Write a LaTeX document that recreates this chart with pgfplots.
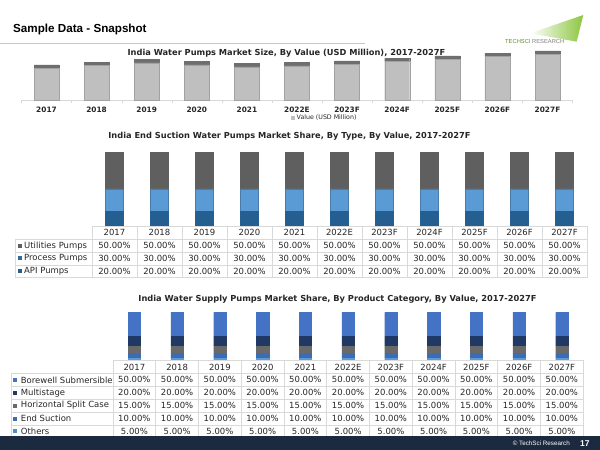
\documentclass[border=0pt]{standalone}
\usepackage{pgfplots}
\usepackage{pgfplotstable}
\pgfplotsset{compat=1.18}
\usepackage{fontspec}
\setmainfont{DejaVu Sans}
\newfontfamily\arialfont{Liberation Sans}
\definecolor{txt}{HTML}{262626}
\definecolor{bodygray}{HTML}{BFBFBF}
\definecolor{capgray}{HTML}{6E6E6E}
\definecolor{utilgray}{HTML}{5F5F5F}
\definecolor{procblue}{HTML}{5B9BD5}
\definecolor{apiblue}{HTML}{255E91}
\definecolor{borewell}{HTML}{4472C4}
\definecolor{multi}{HTML}{203864}
\definecolor{hsc}{HTML}{696969}
\definecolor{endsuc}{HTML}{3A6DB5}
\definecolor{others}{HTML}{5B9BD5}
\definecolor{gridc}{HTML}{D9D9D9}
\definecolor{footer}{HTML}{1B2A3F}
\definecolor{logogreen}{HTML}{8CC63F}
\newcommand\tabfont{\fontsize{8.5}{10}\selectfont}
\newcommand\ttlfont{\fontsize{8.3}{10}\selectfont\bfseries}

\pgfplotstableread{
x body cap
0 31.7 3.3
1 34.4 3.3
2 37.0 3.3
3 35.0 3.3
4 33.0 3.3
5 34.0 3.3
6 35.7 3.3
7 38.4 3.3
8 40.7 3.3
9 43.4 3.3
10 45.7 3.3
}\sizedata

\pgfplotstableread{
x api proc util
0 20 30 50
1 20 30 50
2 20 30 50
3 20 30 50
4 20 30 50
5 20 30 50
6 20 30 50
7 20 30 50
8 20 30 50
9 20 30 50
10 20 30 50
}\esdata

\pgfplotstableread{
x others endsuc hsc multi bore
0 5 10 15 20 50
1 5 10 15 20 50
2 5 10 15 20 50
3 5 10 15 20 50
4 5 10 15 20 50
5 5 10 15 20 50
6 5 10 15 20 50
7 5 10 15 20 50
8 5 10 15 20 50
9 5 10 15 20 50
10 5 10 15 20 50
}\wsdata

\begin{document}
\begin{tikzpicture}
\useasboundingbox (0,0) rectangle (600bp,450bp);
\fill[white] (0,0) rectangle (600bp,450bp);

% ---------- Chart 1
\begin{axis}[
  at={(21.45bp,350bp)}, anchor=south west, scale only axis,
  width=551.1bp, height=50bp,
  xmin=-0.5, xmax=10.5, ymin=0, ymax=50, clip=false,
  ybar stacked, bar width=25bp,
  axis y line=none, axis x line*=bottom,
  x axis line style={-, draw=gridc, line width=0.8bp},
  xtick={0,...,10},
  xticklabels={2017,2018,2019,2020,2021,2022E,2023F,2024F,2025F,2026F,2027F},
  major tick length=0pt,
  minor xtick={-0.5,0.5,...,10.5}, minor tick length=3bp, tick align=outside,
  minor tick style={draw=gridc},
  xticklabel style={font=\fontsize{7.4}{8}\selectfont\bfseries, text=txt, anchor=base, yshift=-12.8bp},
  legend style={at={(0.489,-0.366)}, anchor=west, draw=none, fill=none,
    font=\fontsize{6.3}{7}\selectfont, text=txt, inner sep=0pt,
    /tikz/every even column/.style={column sep=1bp}},
  legend image code/.code={\fill[#1,draw=none] (0bp,-1.8bp) rectangle (3.6bp,1.8bp);},
]
\addplot[fill=bodygray, draw=bodygray!85!black] table[x=x,y=body]{\sizedata};
\addlegendentry{Value (USD Million)}
\addplot[fill=capgray, draw=capgray, forget plot] table[x=x,y=cap]{\sizedata};
\end{axis}

% ---------- Chart 2
\begin{axis}[
  at={(92bp,224.3bp)}, anchor=south west, scale only axis,
  width=495bp, height=73.4bp,
  xmin=-0.5, xmax=10.5, ymin=0, ymax=100, clip=false,
  ybar stacked, bar width=18.3bp, hide axis,
]
\addplot[fill=apiblue, draw=apiblue] table[x=x,y=api]{\esdata};
\addplot[fill=procblue, draw=procblue!80!black] table[x=x,y=proc]{\esdata};
\addplot[fill=utilgray, draw=utilgray] table[x=x,y=util]{\esdata};
\end{axis}

% ---------- Chart 3
\begin{axis}[
  at={(113bp,89.5bp)}, anchor=south west, scale only axis,
  width=470.25bp, height=48.2bp,
  xmin=-0.5, xmax=10.5, ymin=0, ymax=100, clip=false,
  ybar stacked, bar width=12.3bp, hide axis,
]
\addplot[fill=others, draw=others] table[x=x,y=others]{\wsdata};
\addplot[fill=endsuc, draw=endsuc] table[x=x,y=endsuc]{\wsdata};
\addplot[fill=hsc, draw=hsc] table[x=x,y=hsc]{\wsdata};
\addplot[fill=multi, draw=multi] table[x=x,y=multi]{\wsdata};
\addplot[fill=borewell, draw=borewell] table[x=x,y=bore]{\wsdata};
\end{axis}

\begin{scope}[x=1bp,y=-1bp,shift={(0,450bp)}]
% header
\node[anchor=west, font=\arialfont\bfseries\fontsize{11.7}{14}\selectfont, text=black, inner sep=0pt] at (13,29) {Sample Data - Snapshot};
\draw[gridc!80!gray, line width=0.8bp] (0,43.7) -- (365,43.7);
% logo
\shade[left color=white, right color=logogreen] (530,33.3) -- (583.3,15) -- (576.7,41.7) -- cycle;
\node[anchor=west, inner sep=0pt, font=\arialfont\fontsize{5.8}{7}\selectfont] at (505,41.5) {\textcolor{logogreen!70!black}{TECHSCI} \textcolor{gray}{RESEARCH}};

% titles
\node[font=\ttlfont, text=txt] at (286.5,53) {India Water Pumps Market Size, By Value (USD Million), 2017-2027F};
\node[font=\ttlfont, text=txt] at (289.5,136) {India End Suction Water Pumps Market Share, By Type, By Value, 2017-2027F};
\node[font=\ttlfont, text=txt] at (337.5,299.5) {India Water Supply Pumps Market Share, By Product Category, By Value, 2017-2027F};

% ---- table 2
\begin{scope}[gridc, line width=0.6bp]
\draw (92,226.5) -- (587,226.5);
\foreach \yy in {239.3,252.1,264.9,277.7} \draw (15,\yy) -- (587,\yy);
\draw (15,239.3) -- (15,277.7);
\foreach \k in {0,...,11} \draw ({92+45*\k},226.5) -- ({92+45*\k},277.7);
\end{scope}
\foreach \yr [count=\i from 0] in {2017,2018,2019,2020,2021,2022E,2023F,2024F,2025F,2026F,2027F}{
  \node[font=\tabfont, text=txt] at ({92+45*(\i+0.5)},232.9) {\yr};
  \node[font=\tabfont, text=txt] at ({92+45*(\i+0.5)},245.7) {50.00\%};
  \node[font=\tabfont, text=txt] at ({92+45*(\i+0.5)},258.5) {30.00\%};
  \node[font=\tabfont, text=txt] at ({92+45*(\i+0.5)},271.3) {20.00\%};
}
\fill[utilgray] (18.3,243.6) rectangle (22.3,247.6);
\fill[apiblue!80!procblue] (18.3,256.4) rectangle (22.3,260.4);
\fill[apiblue] (18.3,269.2) rectangle (22.3,273.2);
\node[anchor=west, inner sep=0pt, font=\tabfont, text=txt] at (24,245.7) {Utilities Pumps};
\node[anchor=west, inner sep=0pt, font=\tabfont, text=txt] at (24,258.5) {Process Pumps};
\node[anchor=west, inner sep=0pt, font=\tabfont, text=txt] at (24,271.3) {API Pumps};

% ---- table 3
\begin{scope}[gridc, line width=0.6bp]
\draw (113,360.5) -- (583.25,360.5);
\foreach \yy in {373.4,386.3,399.2,412.1,425,437.9} \draw (11.7,\yy) -- (583.25,\yy);
\draw (11.7,373.4) -- (11.7,437.9);
\foreach \k in {0,...,11} \draw ({113+42.75*\k},360.5) -- ({113+42.75*\k},437.9);
\end{scope}
\foreach \yr [count=\i from 0] in {2017,2018,2019,2020,2021,2022E,2023F,2024F,2025F,2026F,2027F}{
  \node[font=\tabfont, text=txt] at ({113+42.75*(\i+0.5)},366.95) {\yr};
  \node[font=\tabfont, text=txt] at ({113+42.75*(\i+0.5)},379.85) {50.00\%};
  \node[font=\tabfont, text=txt] at ({113+42.75*(\i+0.5)},392.75) {20.00\%};
  \node[font=\tabfont, text=txt] at ({113+42.75*(\i+0.5)},405.65) {15.00\%};
  \node[font=\tabfont, text=txt] at ({113+42.75*(\i+0.5)},418.55) {10.00\%};
  \node[font=\tabfont, text=txt] at ({113+42.75*(\i+0.5)},431.45) {5.00\%};
}
\fill[borewell] (13.3,377.85) rectangle (17.3,381.85);
\fill[multi] (13.3,390.75) rectangle (17.3,394.75);
\fill[hsc] (13.3,403.65) rectangle (17.3,407.65);
\fill[endsuc] (13.3,416.55) rectangle (17.3,420.55);
\fill[others!70!endsuc] (13.3,429.45) rectangle (17.3,433.45);
\node[anchor=west, inner sep=0pt, font=\tabfont, text=txt] at (20.7,379.85) {Borewell Submersible};
\node[anchor=west, inner sep=0pt, font=\tabfont, text=txt] at (20.7,392.75) {Multistage};
\node[anchor=west, inner sep=0pt, font=\tabfont, text=txt] at (20.7,405.65) {Horizontal Split Case};
\node[anchor=west, inner sep=0pt, font=\tabfont, text=txt] at (20.7,418.55) {End Suction};
\node[anchor=west, inner sep=0pt, font=\tabfont, text=txt] at (20.7,431.45) {Others};

% footer
\fill[footer] (0,436) rectangle (600,450);
\node[anchor=east, inner sep=0pt, font=\arialfont\fontsize{6.3}{7}\selectfont, text=white] at (570,443.3) {© TechSci Research};
\node[anchor=west, inner sep=0pt, font=\arialfont\bfseries\fontsize{8.5}{10}\selectfont, text=white] at (580,443.3) {17};
\end{scope}
\end{tikzpicture}
\end{document}
